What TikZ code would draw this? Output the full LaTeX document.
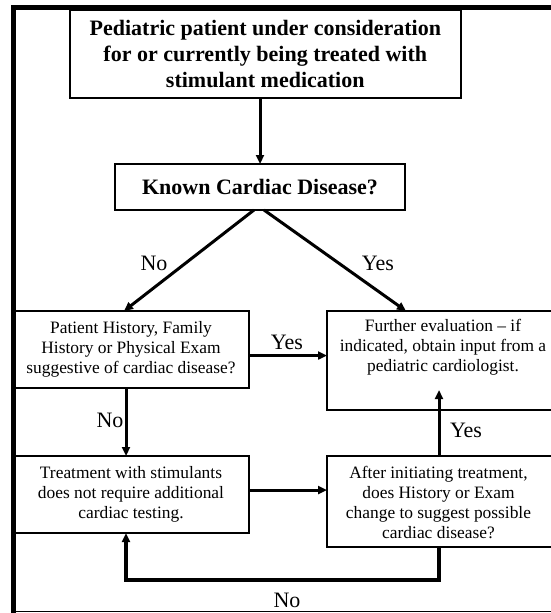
\documentclass[tikz,border=0pt]{standalone}
\usepackage{fontspec}
\setmainfont{Liberation Serif}
\usetikzlibrary{arrows.meta,calc}
\begin{document}
\begin{tikzpicture}[x=1pt,y=-1pt,
  box/.style={draw,line width=2pt,rectangle,inner sep=0pt,outer sep=0pt,align=center},
  txt/.style={font=\fontsize{17.4}{20}\selectfont},
  btxt/.style={font=\fontsize{22}{26}\selectfont\bfseries},
  plain/.style={align=center,inner sep=0pt,font=\fontsize{17.4}{20}\selectfont},
  lbl/.style={inner sep=0pt,font=\fontsize{22}{26}\selectfont},
  arr/.style={line width=3pt,-{Triangle[length=9pt,width=8pt]}},
  loopline/.style={line width=4.5pt,-{Triangle[length=9pt,width=8pt]}},
]
\useasboundingbox (0,0) rectangle (551,613);
% outer frame
\draw[line width=5pt] (13,613) -- (13,7.5) -- (560,7.5);
\draw[line width=1.5pt] (13,611.5) -- (560,611.5);

% boxes
\node[box,btxt,minimum width=390.6pt,minimum height=88.3pt] (top) at (265.3,54.2)
  {Pediatric patient under consideration\\for or currently being treated with\\stimulant medication};
\node[box,btxt,minimum width=290pt,minimum height=46pt] (known) at (260,187)
  {Known Cardiac Disease?};
\node[box,txt,minimum width=236pt,minimum height=77pt] (hist) at (131,349.5)
  {Patient History, Family\\History or Physical Exam\\suggestive of cardiac disease?};
\node[box,minimum width=233pt,minimum height=99pt] (further) at (443.5,360.5) {};
\node[plain] (furtherText) at (443,347)
  {Further evaluation -- if\\indicated, obtain input from a\\pediatric cardiologist.};
\node[box,txt,minimum width=236pt,minimum height=77pt] (treat) at (131,494.5)
  {Treatment with stimulants\\does not require additional\\cardiac testing.};
\node[box,minimum width=233pt,minimum height=91pt] (after) at (443.5,501.5) {};
\node[plain] (afterText) at (438.5,502.5)
  {After initiating treatment,\\does History or Exam\\change to suggest possible\\cardiac disease?};

% connector end points
\coordinate (yesBs) at ($(hist.east)+(0,6)$);
\coordinate (midS) at ($(treat.east)+(0,-4.5)$);
\coordinate (upS) at ($(after.north west)+(112,0)$);
\coordinate (upE) at ($(further.south west)+(112,-20)$);
\coordinate (loopS) at ($(after.south west)+(112,0)$);
\coordinate (loopR) at (439,580);
\coordinate (loopE) at ($(treat.south)+(-5,0)$);

% connectors
\draw[arr] (top.south -| known.north) -- (known.north);
\draw[arr] ($(known.south)+(-6,0)$) -- ($(hist.north)+(-7,0)$);
\draw[arr] ($(known.south)+(4,0)$) -- ($(further.north west)+(79,0)$);
\draw[arr] (yesBs) -- (yesBs -| further.west);
\draw[arr] ($(hist.south)+(-5,0)$) -- ($(treat.north)+(-5,0)$);
\draw[arr] (midS) -- (midS -| after.west);
\draw[arr] (upS) -- (upE);
\draw[loopline] (loopS) -- (loopR) -| (loopE);

% labels
\node[lbl] (noA) at (154,263) {No};
\node[lbl] (yesA) at (378,263) {Yes};
\node[lbl] (yesB) at (287,342) {Yes};
\node[lbl] (noB) at (110,420) {No};
\node[lbl] (yesC) at (466,430) {Yes};
\node[lbl] (noC) at (287,600) {No};
\end{tikzpicture}
\end{document}
